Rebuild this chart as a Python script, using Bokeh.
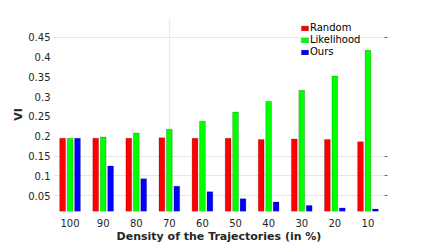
from bokeh.plotting import figure
from bokeh.models import ColumnDataSource, FactorRange, Range1d, FixedTicker, LinearAxis, Legend, LegendItem
from bokeh.transform import dodge
from bokeh.embed import file_html
from bokeh.resources import INLINE

categories = ["100", "90", "80", "70", "60", "50", "40", "30", "20", "10"]
random_vals = [0.195, 0.195, 0.195, 0.196, 0.195, 0.195, 0.192, 0.193, 0.192, 0.186]
likelihood_vals = [0.195, 0.198, 0.208, 0.218, 0.238, 0.261, 0.288, 0.316, 0.352, 0.417]
ours_vals = [0.195, 0.125, 0.093, 0.074, 0.060, 0.042, 0.034, 0.025, 0.019, 0.016]
y_ticks = [0.05, 0.1, 0.15, 0.2, 0.25, 0.3, 0.35, 0.4, 0.45]
grid_ticks = [0.05, 0.1, 0.15, 0.45]
vgrid_cats = ["70"]

src = ColumnDataSource(dict(cat=categories, r=random_vals, l=likelihood_vals, o=ours_vals))

FONT = "DejaVu Sans"
y0, y1 = 0.01, 0.5
p = figure(x_range=FactorRange(*categories, range_padding=0), y_range=Range1d(y0, y1),
           frame_width=331, frame_height=194, output_backend="svg", toolbar_location=None,
           min_border_left=53, min_border_right=18, min_border_top=17, min_border_bottom=0)
p.outline_line_color = None
p.background_fill_color = "white"

p.segment(x0=vgrid_cats, y0=[y0] * len(vgrid_cats), x1=vgrid_cats, y1=[y1] * len(vgrid_cats),
          line_color="#e8e8e8", line_width=1, level="underlay")

w = 0.175
edge = dict(line_color="#000000", line_alpha=0.25, line_width=0.8)
r1 = p.vbar(x=dodge("cat", -0.225, range=p.x_range), top="r", bottom=0, width=w, source=src,
            fill_color="#ff0000", **edge)
r2 = p.vbar(x=dodge("cat", 0.0, range=p.x_range), top="l", bottom=0, width=w, source=src,
            fill_color="#00ff00", **edge)
r3 = p.vbar(x=dodge("cat", 0.225, range=p.x_range), top="o", bottom=0, width=w, source=src,
            fill_color="#0000ff", **edge)

p.xgrid.grid_line_color = None
p.ygrid.ticker = FixedTicker(ticks=grid_ticks)
p.ygrid.grid_line_color = "#e6e6e6"
p.ygrid.level = "underlay"

ya = p.yaxis[0]
ya.ticker = FixedTicker(ticks=y_ticks)
ya.major_label_overrides = {t: str(t) for t in y_ticks}
ya.axis_line_color = None
ya.major_tick_line_color = None
ya.major_tick_out = 0
ya.major_tick_in = 0
ya.minor_tick_line_color = None
ya.major_label_text_font = FONT
ya.major_label_text_font_size = "10px"
ya.major_label_text_color = "#262626"
ya.major_label_standoff = 3
ya.axis_label = "VI"
ya.axis_label_text_font = FONT
ya.axis_label_text_font_size = "11px"
ya.axis_label_text_font_style = "bold"
ya.axis_label_text_color = "#262626"
ya.axis_label_standoff = 0

xa = p.xaxis[0]
xa.axis_line_color = None
xa.major_tick_line_color = None
xa.major_tick_out = 0
xa.major_tick_in = 0
xa.minor_tick_line_color = None
xa.major_label_text_font = FONT
xa.major_label_text_font_size = "10px"
xa.major_label_text_color = "#262626"
xa.major_label_standoff = 7
xa.axis_label = "Density of the Trajectories (in %)"
xa.axis_label_text_font = FONT
xa.axis_label_text_font_size = "11px"
xa.axis_label_text_font_style = "bold"
xa.axis_label_text_color = "#262626"
xa.axis_label_standoff = 0

ra = LinearAxis(ticker=FixedTicker(ticks=grid_ticks))
ra.axis_line_color = None
ra.major_tick_line_color = "#666666"
ra.major_tick_in = 0
ra.major_tick_out = 3
ra.minor_tick_line_color = None
ra.major_label_text_color = None
ra.major_label_text_font_size = "1px"
ra.major_label_standoff = 0
p.add_layout(ra, "right")

legend = Legend(items=[LegendItem(label="Random", renderers=[r1]),
                       LegendItem(label="Likelihood", renderers=[r2]),
                       LegendItem(label="Ours", renderers=[r3])],
                location=(247, 154))
legend.background_fill_alpha = 0
legend.border_line_color = None
legend.label_text_font = FONT
legend.label_text_font_size = "10px"
legend.label_text_color = "#000000"
legend.glyph_width = 9
legend.glyph_height = 6
legend.label_standoff = 1
legend.label_height = 10
legend.spacing = 1
legend.padding = 0
legend.margin = 0
p.add_layout(legend, "center")

open("out.html", "w").write(file_html(p, INLINE))
